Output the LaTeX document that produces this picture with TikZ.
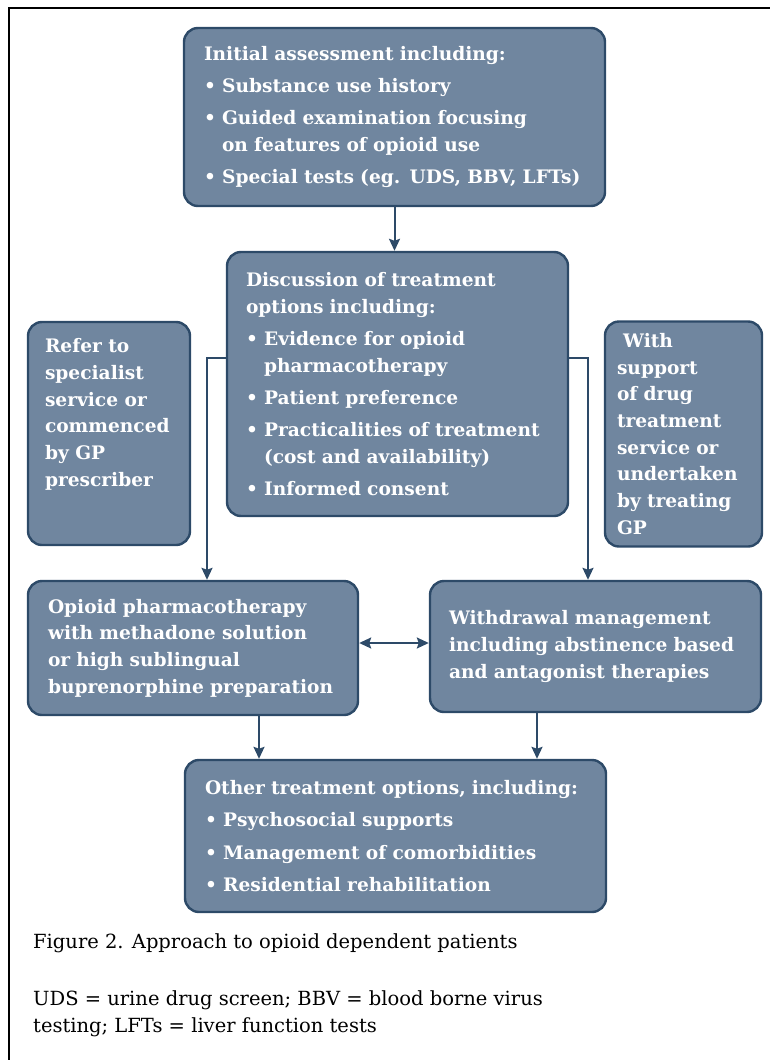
\documentclass[tikz,border=0pt]{standalone}
\usepackage{fontspec}
\setmainfont{DejaVu Serif}
\usetikzlibrary{arrows.meta}
\definecolor{boxfill}{RGB}{112,134,159}
\definecolor{boxline}{RGB}{45,74,104}
\newcommand{\bul}{\textbullet\ }
\newcommand{\ind}{\phantom{\textbullet\ }}

\begin{document}
\begin{tikzpicture}[x=1pt,y=-1pt,>={Stealth[length=12pt,width=11pt,inset=2pt]},
box/.style={draw=boxline, fill=boxfill, line width=2.4pt, rounded corners=14pt, text=white, align=left, inner xsep=20pt, inner ysep=0pt, font=\bfseries\fontsize{18.6}{26.7}\selectfont},
arr/.style={draw=boxline, line width=2pt},
note/.style={anchor=west, align=left, inner sep=0pt, font=\fontsize{19.5}{27}\selectfont}]
\useasboundingbox (0,0) rectangle (770,1060);
\clip (0,0) rectangle (770,1060);
\draw[line width=1.2pt] (9,1080) -- (9,8) -- (790,8);

\node[box, text width=381pt, minimum height=178pt] (init) at (394.5,117) {Initial assessment including:\\[5.5pt] \bul Substance use history\\[5.5pt] \bul Guided examination focusing\\ \ind on features of opioid use\\[5.5pt] \bul Special tests (eg. UDS, BBV, LFTs)};
\node[box, text width=303pt, inner xsep=19pt, minimum height=264pt] (disc) at (397.5,384) {Discussion of treatment\\ options including:\\[5.5pt] \bul Evidence for opioid\\ \ind pharmacotherapy\\[5.5pt] \bul Patient preference\\[5.5pt] \bul Practicalities of treatment\\ \ind (cost and availability)\\[5.5pt] \bul Informed consent};
\node[box, inner xsep=17pt, minimum height=223pt] (refer) at (109,433.5) {\begin{minipage}[c][190pt][t]{128pt}\raggedright Refer to\\ specialist\\ service or\\ commenced\\ by GP\\ prescriber\end{minipage}};
\node[box, text width=133pt, inner xsep=12pt, minimum height=225pt] (support) at (683.5,434) {\ With\\ support\\ of drug\\ treatment\\ service or\\ undertaken\\ by treating\\ GP};
\node[box, text width=290pt, minimum height=134pt] (opioid) at (193,648) {Opioid pharmacotherapy\\ with methadone solution\\ or high sublingual\\ buprenorphine preparation};
\node[box, text width=293pt, inner xsep=19pt, minimum height=131pt] (withdraw) at (595.5,646.5) {Withdrawal management\\ including abstinence based\\ and antagonist therapies};
\node[box, text width=381pt, minimum height=152pt] (other) at (395.5,836) {Other treatment options, including:\\[5.5pt] \bul Psychosocial supports\\[5.5pt] \bul Management of comorbidities\\[5.5pt] \bul Residential rehabilitation};

\node[note] (fig) at (33,943) {Figure 2. Approach to opioid dependent patients};
\node[note] (abbr) at (33,1013.5) {UDS = urine drug screen; BBV = blood borne virus\\ testing; LFTs = liver function tests};

\draw[arr,->] (init.south) -- (init.south |- disc.north);
\draw[arr,->] ([yshift=26pt]disc.west) -| ([xshift=14pt]opioid.north);
\draw[arr,->] ([yshift=26pt]disc.east) -| ([xshift=-7.5pt]withdraw.north);
\draw[arr,<->] ([yshift=5pt]opioid.east) -- ([yshift=5pt]opioid.east -| withdraw.west);
\draw[arr,->] ([xshift=66pt]opioid.south) -- ([xshift=66pt]opioid.south |- other.north);
\draw[arr,->] ([xshift=-58.5pt]withdraw.south) -- ([xshift=-58.5pt]withdraw.south |- other.north);
\end{tikzpicture}
\end{document}
